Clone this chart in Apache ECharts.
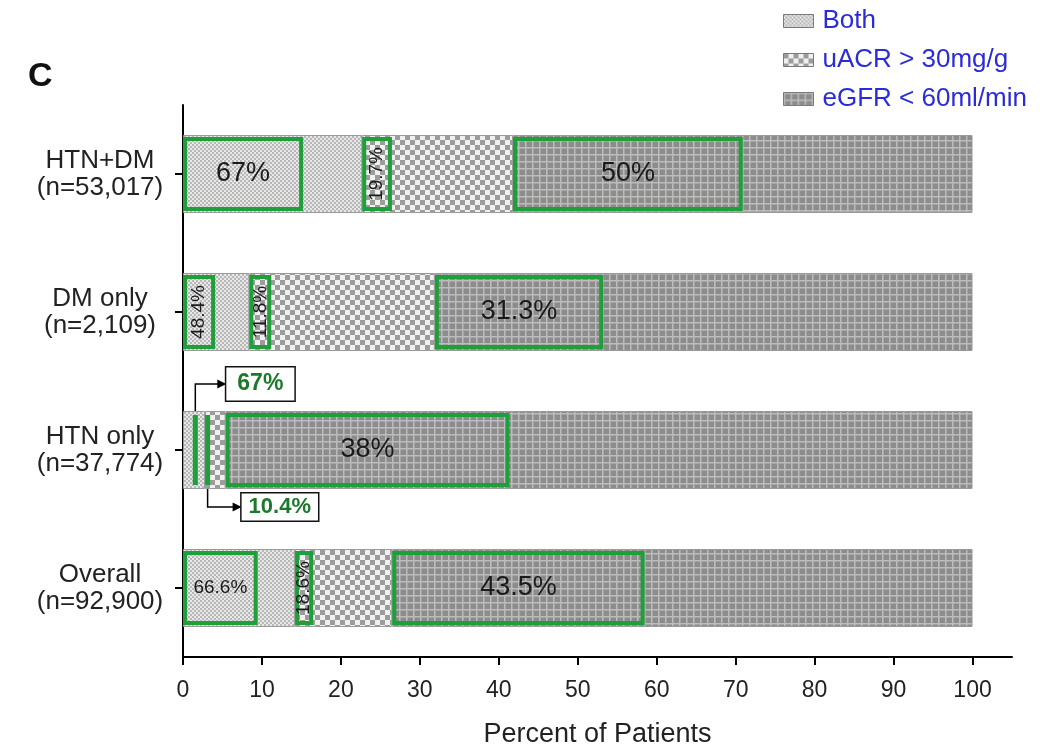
<!DOCTYPE html>
<html>
<head>
<meta charset="utf-8">
<script src="https://cdn.jsdelivr.net/npm/echarts@6/dist/echarts.min.js"></script>
<style>
  html, body { margin: 0; padding: 0; background: #fff; }
  #chart { width: 1063px; height: 747px; }
</style>
</head>
<body>
<div id="chart"></div>
<script>
// Patient groups, top to bottom
const categories = ['HTN+DM\n(n=53,017)', 'DM only\n(n=2,109)', 'HTN only\n(n=37,774)', 'Overall\n(n=92,900)'];
const seriesNames = ['Both', 'uACR > 30mg/g', 'eGFR < 60ml/min'];

// Percent of patients in each group (stacked segments)
const bothPct = [22.7, 8.4, 2.8, 14.2];
const uacrPct = [19.1, 23.5, 2.6, 12.3];
const egfrPct = [58.2, 68.1, 94.6, 73.5];

// Highlighted share of each segment (percent of that segment)
const bothShare = [67, 48.4, 67, 66.6];
const uacrShare = [19.7, 11.8, 10.4, 18.6];
const egfrShare = [50, 31.3, 38, 43.5];

// x-axis tick labels
const xTicks = [0, 10, 20, 30, 40, 50, 60, 70, 80, 90, 100];

const FONT = '"Liberation Sans", Arial, Helvetica, sans-serif';
const BAR_W = 78;
const GREEN = '#1f9f3a';

function tile(w, h, draw) {
  const c = document.createElement('canvas');
  c.width = w; c.height = h;
  draw(c.getContext('2d'));
  return c;
}
// fine light checker
const bothFill = tile(4, 4, g => {
  g.fillStyle = '#e8e8e8'; g.fillRect(0, 0, 4, 4);
  g.fillStyle = '#b8b8b8'; g.fillRect(0, 0, 2, 2); g.fillRect(2, 2, 2, 2);
});
// coarse checker
const uacrFill = tile(10, 10, g => {
  g.fillStyle = '#f0f0f0'; g.fillRect(0, 0, 10, 10);
  g.fillStyle = '#9c9c9c'; g.fillRect(0, 0, 5, 5); g.fillRect(5, 5, 5, 5);
});
// dark grey with light grid
const egfrFill = tile(7, 7, g => {
  g.fillStyle = '#8c8c8c'; g.fillRect(0, 0, 7, 7);
  g.fillStyle = '#bcbcbc'; g.fillRect(0, 0, 7, 1.5); g.fillRect(0, 0, 1.5, 7);
});
const fills = [bothFill, uacrFill, egfrFill];
const segValues = [bothPct, uacrPct, egfrPct];
const shares = [bothShare, uacrShare, egfrShare];

// Highlight boxes: [category, from, to, share, segment]
const boxData = [];
categories.forEach((c, i) => {
  let start = 0;
  for (let s = 0; s < 3; s++) {
    const v = segValues[s][i];
    boxData.push([i, start, start + v * shares[s][i] / 100, shares[s][i], s]);
    start += v;
  }
});

function renderBox(params, api) {
  const cat = api.value(0), x0 = api.value(1), x1 = api.value(2);
  const share = api.value(3), seg = api.value(4);
  const p0 = api.coord([x0, cat]);
  const p1 = api.coord([x1, cat]);
  const top = p0[1] - BAR_W / 2 + 4;
  const h = BAR_W - 8;
  const w = p1[0] - p0[0];
  const txt = share + '%';
  const children = [];
  if (w < 16) {
    // narrow highlight: solid strip plus a call-out label
    const sw = 5;
    const sx = w < sw ? p0[0] : p1[0] - sw;
    children.push({ type: 'rect', shape: { x: sx, y: top, width: sw, height: h }, style: { fill: GREEN } });
    const cx = sx + sw / 2;
    const up = seg === 0;
    const barEdge = up ? p0[1] - BAR_W / 2 : p0[1] + BAR_W / 2;
    const ly = up ? barEdge - 27 : barEdge + 18;
    const lx = cx + (up ? 31 : 34);
    children.push({ type: 'polyline', shape: { points: [[cx, barEdge], [cx, ly], [lx - 6, ly]] },
      style: { stroke: '#000', lineWidth: 1.5, fill: null } });
    children.push({ type: 'polygon', shape: { points: [[lx, ly], [lx - 9, ly - 4.5], [lx - 9, ly + 4.5]] },
      style: { fill: '#000' } });
    children.push({ type: 'text', x: lx, y: ly, style: {
      text: txt, fill: '#1b7a2a', font: 'bold ' + (up ? 23 : 22) + 'px ' + FONT,
      align: 'left', verticalAlign: 'middle',
      backgroundColor: '#fff', borderColor: '#111', borderWidth: 1.5,
      padding: up ? [6, 11, 4, 11] : [3, 7, 2, 7]
    } });
  } else {
    children.push({ type: 'rect', shape: { x: p0[0] + 2, y: top, width: w - 4, height: h },
      style: { fill: null, stroke: GREEN, lineWidth: 4 } });
    const cx = (p0[0] + p1[0]) / 2, cy = p0[1];
    if (w < 50) {
      children.push({ type: 'text', x: cx, y: cy, rotation: Math.PI / 2, style: {
        text: txt, fill: '#1a1a1a', font: '19px ' + FONT, align: 'center', verticalAlign: 'middle' } });
    } else {
      children.push({ type: 'text', x: cx, y: cy, style: {
        text: txt, fill: '#1a1a1a', font: (w > 100 ? 27 : 19) + 'px ' + FONT,
        align: 'center', verticalAlign: 'middle' } });
    }
  }
  return { type: 'group', children };
}

const chart = echarts.init(document.getElementById('chart'), null, { renderer: 'canvas' });

const barSeries = seriesNames.map((name, s) => ({
  name,
  type: 'bar',
  stack: 'total',
  barWidth: BAR_W,
  data: segValues[s],
  itemStyle: { color: { image: fills[s], repeat: 'repeat' }, borderColor: '#9a9a9a', borderWidth: 1 },
  emphasis: { disabled: true },
  animation: false
}));

chart.setOption({
  animation: false,
  title: {
    text: 'C', left: 23, top: 55,
    textStyle: { fontFamily: FONT, fontSize: 34, fontWeight: 'bold', color: '#111' }
  },
  legend: {
    orient: 'vertical', left: 778, top: 3,
    itemWidth: 30, itemHeight: 13, itemGap: 13,
    icon: 'rect',
    data: seriesNames,
    textStyle: { fontFamily: FONT, fontSize: 26, color: '#2b2bd8', padding: [0, 0, 0, 4] },
    itemStyle: { borderColor: '#7a7a7a', borderWidth: 1 }
  },
  grid: { left: 183, right: 51, top: 105, bottom: 90, containLabel: false, outerBoundsMode: 'none' },
  xAxis: {
    type: 'value', min: 0, max: 105,
    name: 'Percent of Patients', nameLocation: 'middle', nameGap: 64,
    nameTextStyle: { fontFamily: FONT, fontSize: 27, color: '#222' },
    axisLine: { show: true, lineStyle: { color: '#000', width: 2 } },
    axisTick: { show: true, length: 8, lineStyle: { color: '#000', width: 2 }, customValues: xTicks },
    axisLabel: { fontFamily: FONT, fontSize: 23, color: '#222', margin: 22, customValues: xTicks },
    splitLine: { show: false }
  },
  yAxis: {
    type: 'category', data: categories, inverse: true,
    axisLine: { show: true, lineStyle: { color: '#000', width: 2 } },
    axisTick: { show: true, alignWithLabel: true, length: 8, lineStyle: { color: '#000', width: 2 } },
    axisLabel: { fontFamily: FONT, fontSize: 26, lineHeight: 27, color: '#222', align: 'center', margin: 83 }
  },
  series: barSeries.concat([{
    type: 'custom',
    name: 'highlight',
    renderItem: renderBox,
    encode: { x: [1, 2], y: 0 },
    data: boxData,
    z: 5,
    silent: true,
    animation: false
  }])
});
</script>
</body>
</html>
